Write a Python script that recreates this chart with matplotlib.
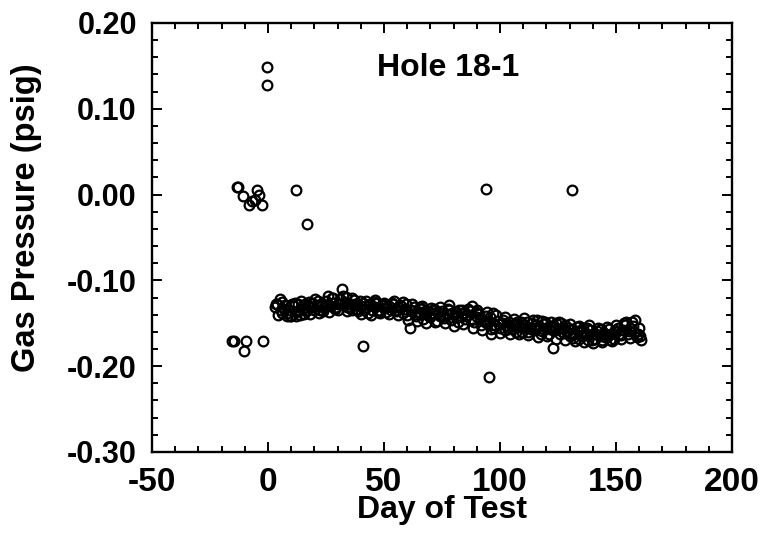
import matplotlib
matplotlib.use("Agg")
import matplotlib.pyplot as plt
from matplotlib.ticker import MultipleLocator

# readings taken before the test started and odd spikes
outlier_days = [-0.5, -0.5, -13.3, -12.8, -10.9, -8.1, -7.0, -5.6, -4.9, -3.7, -2.7,
                12.1, 16.9, -15.5, -14.7, -9.5, -10.3, -2.0, 41.1, 95.3, 122.7,
                94.0, 131.0]
outlier_psig = [0.149, 0.128, 0.009, 0.0085, -0.002, -0.012, -0.008, -0.006, 0.005, -0.001, -0.012,
                0.005, -0.034, -0.171, -0.171, -0.171, -0.182, -0.171, -0.177, -0.213, -0.179,
                0.007, 0.005]

# daily readings during the test (day 3 to day 161)
daily_days = list(range(3, 162))
daily_psig = [
    -0.131, -0.128, -0.122, -0.138, -0.133, -0.141, -0.135, -0.142, -0.130, -0.137,
    -0.128, -0.140, -0.133, -0.127, -0.135, -0.131, -0.126, -0.134, -0.129, -0.138,
    -0.127, -0.132, -0.124, -0.118, -0.130, -0.126, -0.133, -0.128, -0.122, -0.110,
    -0.125, -0.131, -0.127, -0.134, -0.123, -0.129, -0.136, -0.130, -0.126, -0.133,
    -0.138, -0.128, -0.135, -0.131, -0.126, -0.134, -0.129, -0.132, -0.137, -0.130,
    -0.134, -0.128, -0.136, -0.131, -0.129, -0.138, -0.133, -0.140, -0.155, -0.136,
    -0.131, -0.142, -0.137, -0.133, -0.145, -0.139, -0.136, -0.143, -0.138, -0.134,
    -0.147, -0.141, -0.136, -0.144, -0.139, -0.135, -0.146, -0.140, -0.137, -0.148,
    -0.142, -0.138, -0.145, -0.140, -0.136, -0.130, -0.149, -0.143, -0.139, -0.152,
    -0.146, -0.141, -0.150, -0.162, -0.138, -0.152, -0.147, -0.155, -0.150, -0.158,
    -0.153, -0.148, -0.157, -0.151, -0.160, -0.154, -0.149, -0.156, -0.152, -0.160,
    -0.155, -0.150, -0.158, -0.146, -0.153, -0.159, -0.151, -0.156, -0.162, -0.154,
    -0.158, -0.150, -0.157, -0.163, -0.155, -0.152, -0.160, -0.165, -0.157, -0.162,
    -0.154, -0.168, -0.160, -0.156, -0.164, -0.170, -0.158, -0.163, -0.168, -0.159,
    -0.165, -0.170, -0.161, -0.166, -0.157, -0.163, -0.168, -0.160, -0.155, -0.164,
    -0.158, -0.152, -0.162, -0.156, -0.148, -0.160, -0.166, -0.155, -0.170,
]

# extra readings taken between the daily ones
extra_days = [3.5 + 2 * i for i in range(79)]
extra_psig = [
    -0.127, -0.135, -0.129, -0.142, -0.126, -0.134, -0.139, -0.125, -0.131, -0.124,
    -0.136, -0.129, -0.121, -0.131, -0.127, -0.119, -0.132, -0.128, -0.124, -0.135,
    -0.129, -0.125, -0.137, -0.127, -0.131, -0.126, -0.134, -0.130, -0.127, -0.134,
    -0.139, -0.131, -0.136, -0.141, -0.133, -0.137, -0.142, -0.133, -0.138, -0.143,
    -0.135, -0.141, -0.146, -0.137, -0.144, -0.149, -0.143, -0.156, -0.151, -0.146,
    -0.157, -0.152, -0.148, -0.160, -0.148, -0.157, -0.152, -0.163, -0.148, -0.157,
    -0.153, -0.149, -0.161, -0.156, -0.167, -0.159, -0.165, -0.155, -0.169, -0.162,
    -0.157, -0.166, -0.170, -0.158, -0.163, -0.150, -0.159, -0.153, -0.162,
]

late_days = [4.2 + 2 * i for i in range(79)]
late_psig = [
    -0.140, -0.125, -0.138, -0.128, -0.141, -0.124, -0.136, -0.139, -0.122, -0.135,
    -0.131, -0.137, -0.120, -0.135, -0.118, -0.136, -0.121, -0.133, -0.139, -0.124,
    -0.140, -0.123, -0.138, -0.126, -0.139, -0.124, -0.140, -0.125, -0.146, -0.128,
    -0.147, -0.130, -0.150, -0.132, -0.148, -0.131, -0.150, -0.129, -0.153, -0.134,
    -0.151, -0.133, -0.155, -0.135, -0.158, -0.137, -0.157, -0.140, -0.161, -0.143,
    -0.163, -0.145, -0.162, -0.144, -0.164, -0.146, -0.166, -0.147, -0.165, -0.148,
    -0.168, -0.150, -0.170, -0.151, -0.171, -0.153, -0.172, -0.152, -0.173, -0.155,
    -0.172, -0.154, -0.171, -0.152, -0.168, -0.148, -0.167, -0.146, -0.165,
]


def plot_pressure():
    plt.rcParams['font.family'] = ['Liberation Sans', 'DejaVu Sans']
    plt.rcParams['font.weight'] = 'bold'
    plt.rcParams['axes.unicode_minus'] = False

    fig = plt.figure(figsize=(7.64, 5.33), dpi=100)
    ax = fig.add_axes([0.199, 0.152, 0.759, 0.805])

    days = daily_days + extra_days + late_days + outlier_days
    psig = daily_psig + extra_psig + late_psig + outlier_psig
    ax.plot(days, psig, linestyle='none', marker='o', markersize=7,
            markerfacecolor='none', markeredgecolor='black', markeredgewidth=1.6)

    ax.set_xlim(-50, 200)
    ax.set_ylim(-0.30, 0.20)
    ax.xaxis.set_major_locator(MultipleLocator(50))
    ax.xaxis.set_minor_locator(MultipleLocator(10))
    ax.yaxis.set_major_locator(MultipleLocator(0.10))
    ax.yaxis.set_minor_locator(MultipleLocator(0.02))
    ax.yaxis.set_major_formatter(lambda v, pos: f"{v:.2f}")

    ax.tick_params(which='both', direction='in', top=True, right=True, width=1.4)
    ax.tick_params(which='major', length=7, pad=11)
    ax.tick_params(which='minor', length=4)
    ax.tick_params(axis='x', labelsize=24)
    ax.tick_params(axis='y', labelsize=22)
    for side in ax.spines.values():
        side.set_linewidth(1.7)

    ax.set_xlabel("Day of Test", fontsize=23, fontweight='bold', labelpad=-2)
    ax.set_ylabel("Gas Pressure (psig)", fontsize=23.5, fontweight='bold')
    ax.yaxis.set_label_coords(-0.19, 0.545)
    ax.text(77.6, 0.147, "Hole 18-1", fontsize=23, fontweight='bold',
            ha='center', va='center')

    fig.savefig("out.png", dpi=100)


if __name__ == "__main__":
    plot_pressure()
